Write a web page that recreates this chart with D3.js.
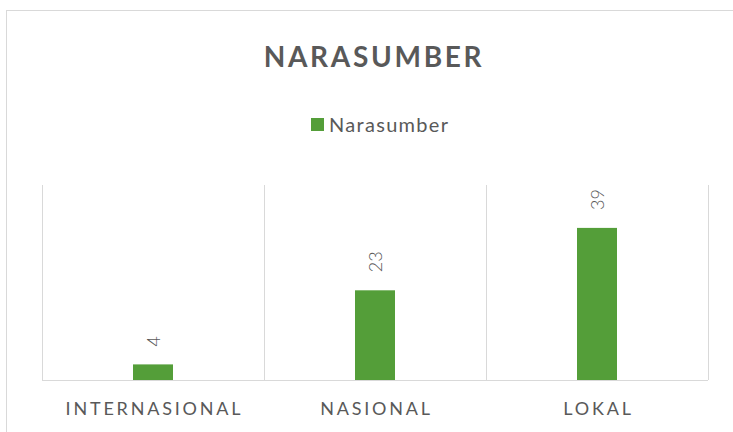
<!DOCTYPE html>
<html>
<head>
<meta charset="utf-8">
<script src="https://cdn.jsdelivr.net/npm/d3@7"></script>
<style>
  body { margin: 0; background: #fff; }
  svg { font-family: Lato, "Open Sans", sans-serif; }
</style>
</head>
<body>
<div id="chart"></div>
<script>
// data
const categories = ["INTERNASIONAL", "NASIONAL", "LOKAL"];
const values = [4, 23, 39];
const seriesName = "Narasumber";
const chartTitle = "NARASUMBER";

const width = 733, height = 432;
const margin = { top: 185, right: 25, bottom: 52, left: 42 };
const green = "#549e39";
const textGray = "#595959";

const svg = d3.select("#chart")
    .append("svg")
    .attr("width", width)
    .attr("height", height);

// chart area border
svg.append("rect")
    .attr("x", 6.5).attr("y", 10.5)
    .attr("width", width + 10).attr("height", height + 10)
    .attr("fill", "#fff")
    .attr("stroke", "#d9d9d9");

// title
svg.append("text")
    .attr("x", 374).attr("y", 67)
    .attr("text-anchor", "middle")
    .attr("font-size", 28)
    .attr("font-weight", "bold")
    .attr("letter-spacing", 2.7)
    .attr("fill", textGray)
    .text(chartTitle);

// legend
const legend = svg.append("g").attr("transform", "translate(311,118)");
legend.append("rect").attr("width", 13).attr("height", 13).attr("fill", green);
legend.append("text")
    .attr("x", 18).attr("y", 14)
    .attr("font-size", 20)
    .attr("letter-spacing", 1.3)
    .attr("fill", textGray)
    .text(seriesName);

const x = d3.scaleBand()
    .domain(categories)
    .range([margin.left, width - margin.right])
    .paddingInner(0).paddingOuter(0);

const y = d3.scaleLinear()
    .domain([0, 50])
    .range([height - margin.bottom, margin.top]);

// vertical category gridlines
const edges = categories.map(c => x(c)).concat([x.range()[1]]);
svg.append("g")
    .selectAll("line")
    .data(edges)
    .join("line")
    .attr("x1", d => Math.round(d) + 0.5)
    .attr("x2", d => Math.round(d) + 0.5)
    .attr("y1", y(50))
    .attr("y2", y(0))
    .attr("stroke", "#d9d9d9");

// bars
const barW = 40;
svg.append("g")
    .selectAll("rect")
    .data(values)
    .join("rect")
    .attr("x", (d, i) => x(categories[i]) + x.bandwidth() / 2 - barW / 2)
    .attr("y", d => y(d))
    .attr("width", barW)
    .attr("height", d => y(0) - y(d))
    .attr("fill", green);

// x axis baseline
svg.append("line")
    .attr("x1", x.range()[0]).attr("x2", x.range()[1])
    .attr("y1", y(0) + 0.5).attr("y2", y(0) + 0.5)
    .attr("stroke", "#d9d9d9");

// rotated value labels
svg.append("g")
    .selectAll("text")
    .data(values)
    .join("text")
    .attr("transform", (d, i) => {
        const cx = x(categories[i]) + x.bandwidth() / 2;
        return "translate(" + (cx + 7) + "," + (y(d) - 18) + ") rotate(-90)";
    })
    .attr("font-size", 18)
    .attr("font-weight", 300)
    .attr("fill", textGray)
    .text(d => d);

// category labels
svg.append("g")
    .selectAll("text")
    .data(categories)
    .join("text")
    .attr("x", d => x(d) + x.bandwidth() / 2 + 1.5)
    .attr("y", y(0) + 35)
    .attr("text-anchor", "middle")
    .attr("font-size", 18)
    .attr("letter-spacing", 2.8)
    .attr("fill", textGray)
    .text(d => d);
</script>
</body>
</html>
